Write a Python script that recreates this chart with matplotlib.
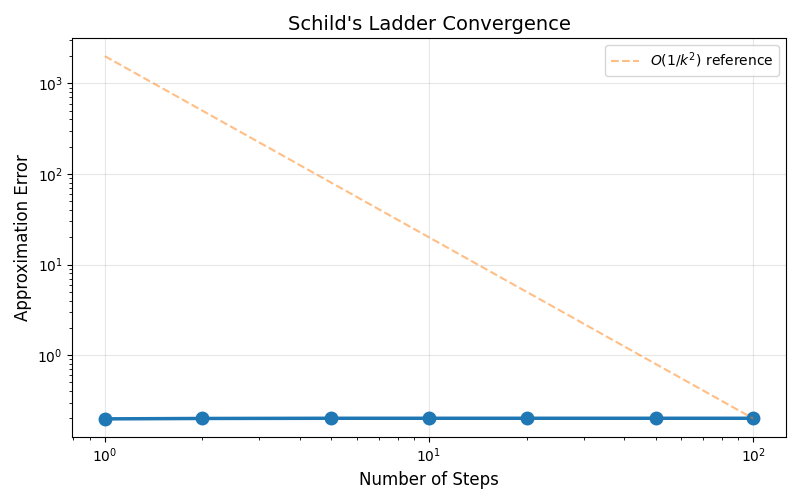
import matplotlib
matplotlib.use("Agg")
import matplotlib.pyplot as plt
import numpy as np

steps = [1, 2, 5, 10, 20, 50, 100]
errors = [0.198, 0.2, 0.201, 0.201, 0.201, 0.201, 0.201]
ref_k = np.array([1, 100])
ref_vals = 2000.0 / ref_k**2

fig, ax = plt.subplots(figsize=(8, 5), dpi=100)
ax.loglog(steps, errors, 'o-', color='#1f77b4', linewidth=2.5, markersize=9)
ax.loglog(ref_k, ref_vals, '--', color='#ff7f0e', alpha=0.5, linewidth=1.5,
          label=r'$O(1/k^2)$ reference')
ax.set_xlabel('Number of Steps', fontsize=12)
ax.set_ylabel('Approximation Error', fontsize=12)
ax.set_title("Schild's Ladder Convergence", fontsize=14)
ax.grid(True, alpha=0.3)
ax.legend()
fig.subplots_adjust(left=0.0905, right=0.982, top=0.924, bottom=0.126)
fig.savefig('out.png')
